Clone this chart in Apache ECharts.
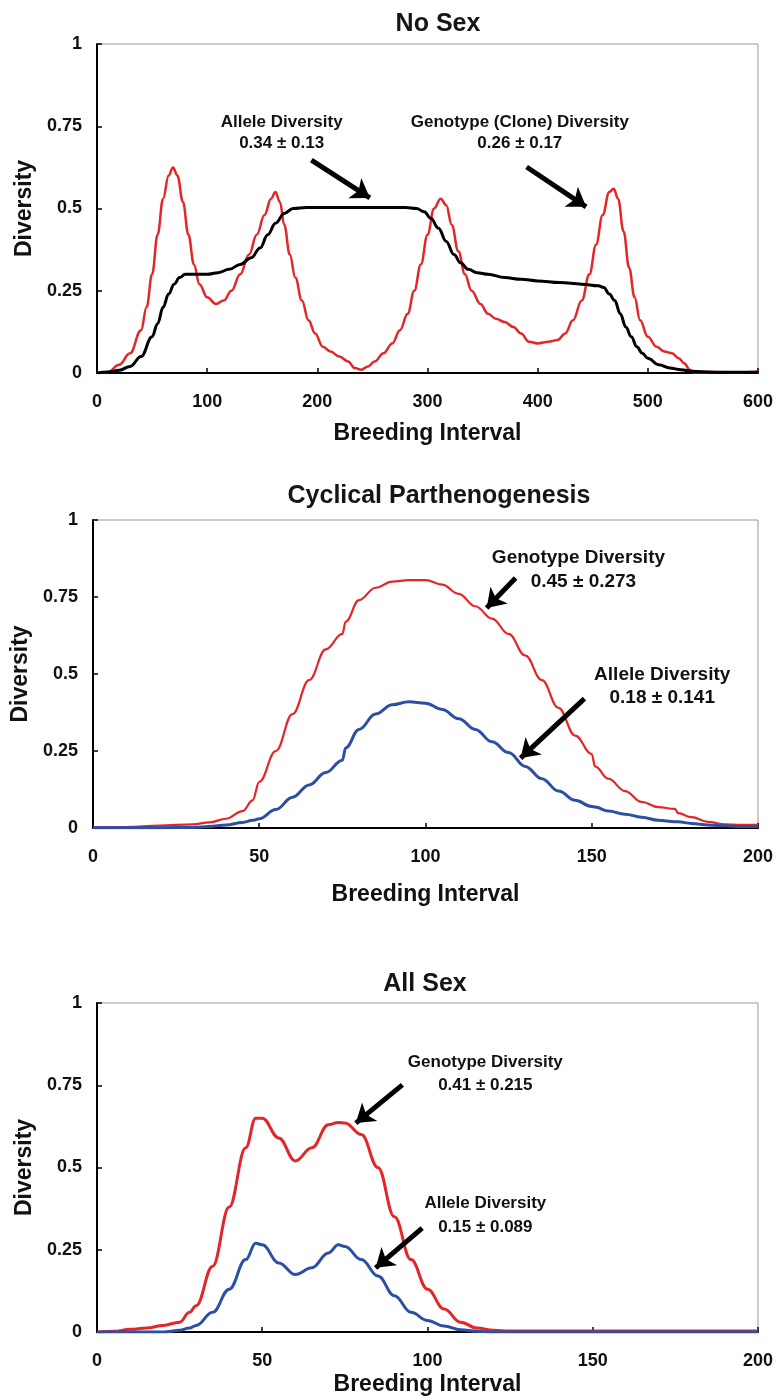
<!DOCTYPE html>
<html>
<head>
<meta charset="utf-8">
<script src="https://cdn.jsdelivr.net/npm/echarts@6/dist/echarts.min.js"></script>
<style>
  html, body { margin: 0; padding: 0; background: #fff; }
  #main { width: 776px; height: 1400px; }
</style>
</head>
<body>
<div id="main"></div>
<script>
// ---- data ----
var titles = ["No Sex", "Cyclical Parthenogenesis", "All Sex"];
var yTicks = [0, 0.25, 0.5, 0.75, 1];

// No Sex: genotype (clone) diversity, red
var noSexGenoX = [0, 10, 20, 30, 40, 45, 50, 55, 60, 65, 69, 73, 78, 83, 88, 93, 100, 108, 115, 122, 130, 138, 145, 152, 158, 162, 166, 170, 175, 180, 186, 192, 198, 205, 212, 220, 228, 234, 240, 246, 252, 260, 268, 275, 282, 288, 294, 300, 306, 312, 317, 322, 328, 334, 340, 348, 355, 362, 370, 378, 385, 392, 400, 410, 418, 425, 432, 440, 447, 453, 459, 465, 469, 473, 478, 483, 488, 493, 500, 508, 515, 522, 528, 533, 538, 542, 560, 580, 600];
var noSexGenoY = [0, 0.003, 0.025, 0.06, 0.13, 0.2, 0.3, 0.42, 0.53, 0.6, 0.625, 0.6, 0.52, 0.42, 0.33, 0.27, 0.23, 0.21, 0.22, 0.25, 0.3, 0.36, 0.42, 0.48, 0.53, 0.55, 0.52, 0.45, 0.36, 0.29, 0.22, 0.16, 0.12, 0.08, 0.065, 0.05, 0.035, 0.015, 0.01, 0.02, 0.035, 0.06, 0.09, 0.13, 0.18, 0.25, 0.33, 0.42, 0.5, 0.53, 0.51, 0.45, 0.37, 0.3, 0.25, 0.21, 0.18, 0.165, 0.155, 0.14, 0.12, 0.095, 0.09, 0.095, 0.1, 0.12, 0.16, 0.22, 0.3, 0.39, 0.48, 0.55, 0.56, 0.53, 0.43, 0.32, 0.23, 0.16, 0.11, 0.08, 0.065, 0.06, 0.045, 0.03, 0.01, 0.002, 0.003, 0.002, 0.004];
// No Sex: allele diversity, black
var noSexAlleleX = [0, 10, 20, 30, 40, 50, 55, 60, 65, 70, 75, 80, 90, 100, 110, 120, 130, 140, 148, 155, 162, 170, 178, 190, 220, 250, 280, 290, 297, 303, 310, 317, 324, 330, 337, 345, 355, 370, 385, 400, 420, 440, 455, 460, 465, 470, 475, 480, 485, 490, 495, 500, 510, 520, 530, 540, 560, 600];
var noSexAlleleY = [0, 0.003, 0.008, 0.02, 0.05, 0.11, 0.15, 0.2, 0.24, 0.27, 0.29, 0.3, 0.3, 0.3, 0.305, 0.315, 0.33, 0.35, 0.38, 0.42, 0.455, 0.485, 0.5, 0.503, 0.503, 0.503, 0.503, 0.5, 0.49, 0.47, 0.44, 0.4, 0.36, 0.335, 0.315, 0.305, 0.3, 0.29, 0.285, 0.28, 0.275, 0.27, 0.265, 0.26, 0.24, 0.22, 0.18, 0.14, 0.11, 0.08, 0.06, 0.045, 0.025, 0.015, 0.01, 0.005, 0.002, 0.002];

// Cyclical Parthenogenesis
var cpX = [0, 10, 20, 30, 35, 40, 45, 48, 50, 55, 60, 65, 70, 75, 76, 80, 85, 90, 95, 100, 105, 110, 115, 120, 125, 130, 135, 140, 145, 150, 151, 155, 160, 165, 170, 175, 176, 180, 185, 190, 195, 200];
var cpGeno = [0.002, 0.003, 0.008, 0.012, 0.018, 0.03, 0.055, 0.09, 0.15, 0.25, 0.37, 0.48, 0.58, 0.63, 0.67, 0.74, 0.78, 0.8, 0.805, 0.805, 0.79, 0.76, 0.72, 0.68, 0.63, 0.56, 0.48, 0.39, 0.3, 0.24, 0.2, 0.16, 0.12, 0.085, 0.068, 0.062, 0.048, 0.035, 0.02, 0.012, 0.01, 0.01];
var cpAllele = [0.001, 0.001, 0.001, 0.002, 0.005, 0.01, 0.018, 0.025, 0.03, 0.06, 0.1, 0.14, 0.18, 0.22, 0.26, 0.32, 0.37, 0.4, 0.41, 0.405, 0.385, 0.355, 0.32, 0.28, 0.245, 0.2, 0.16, 0.12, 0.09, 0.07, 0.068, 0.055, 0.045, 0.035, 0.025, 0.02, 0.02, 0.015, 0.01, 0.007, 0.005, 0.005];

// All Sex
var asX = [0, 5, 10, 15, 20, 25, 28, 30, 35, 40, 45, 48, 50, 55, 60, 65, 70, 73, 75, 80, 85, 90, 95, 100, 105, 110, 115, 120, 125, 150, 175, 200];
var asGeno = [0, 0.002, 0.008, 0.012, 0.02, 0.03, 0.06, 0.08, 0.2, 0.38, 0.56, 0.65, 0.65, 0.59, 0.52, 0.56, 0.63, 0.637, 0.635, 0.6, 0.5, 0.35, 0.22, 0.13, 0.07, 0.03, 0.012, 0.005, 0.003, 0.003, 0.003, 0.003];
var asAllele = [0, 0, 0, 0, 0, 0.005, 0.012, 0.02, 0.06, 0.13, 0.22, 0.27, 0.265, 0.21, 0.175, 0.195, 0.24, 0.265, 0.26, 0.22, 0.17, 0.11, 0.06, 0.035, 0.018, 0.007, 0.002, 0, 0, 0, 0, 0];

// annotation texts [text, x, y] and arrows [x1, y1, x2, y2] in data units
var noSexNotes = [["Allele Diversity", 167.6, 0.763], ["0.34 \u00b1 0.13", 167.6, 0.699], ["Genotype (Clone) Diversity", 383.8, 0.763], ["0.26 \u00b1 0.17", 383.8, 0.699]];
var noSexArrows = [[194.6, 0.647, 247.7, 0.532], [390, 0.626, 444, 0.505]];
var cpNotes = [["Genotype Diversity", 146, 0.877], ["0.45 \u00b1 0.273", 147.5, 0.799], ["Allele Diversity", 171.2, 0.497], ["0.18 \u00b1 0.141", 171.2, 0.422]];
var cpArrows = [[127.1, 0.812, 118.4, 0.714], [147.8, 0.42, 128.6, 0.227]];
var asNotes = [["Genotype Diversity", 117.5, 0.821], ["0.41 \u00b1 0.215", 117.5, 0.751], ["Allele Diversity", 117.5, 0.392], ["0.15 \u00b1 0.089", 117.5, 0.319]];
var asArrows = [[92.4, 0.751, 78.3, 0.635], [98.4, 0.316, 84.3, 0.195]];

// ---- chart ----
var RED = "#e3262a", BLUE = "#2b4fa3", BLACK = "#000";
var FONT = "Liberation Sans";

function zip(xs, ys) {
  return xs.map(function (x, i) { return [x, ys[i]]; });
}

function notesMark(notes, size) {
  return {
    symbol: "circle",
    symbolSize: 0,
    silent: true,
    label: {
      show: true,
      position: "inside",
      formatter: function (p) { return p.name; },
      fontFamily: FONT,
      fontWeight: "bold",
      fontSize: size,
      color: "#111"
    },
    data: notes.map(function (n) { return { name: n[0], coord: [n[1], n[2]] }; })
  };
}

function arrowsMark(arrows) {
  return {
    silent: true,
    symbol: ["none", "arrow"],
    symbolSize: 18,
    label: { show: false },
    lineStyle: { color: BLACK, width: 5, type: "solid" },
    itemStyle: { color: BLACK },
    emphasis: { disabled: true },
    data: arrows.map(function (a) { return [{ coord: [a[0], a[1]] }, { coord: [a[2], a[3]] }]; })
  };
}

var grids = [
  { left: 97, right: 12, top: 44, height: 329 },
  { left: 93, right: 16, top: 520, height: 308 },
  { left: 97, right: 12, top: 1003, height: 329 }
];
var xMax = [600, 200, 200];
var xStep = [100, 50, 50];
var titlePos = [[433, 7], [434, 479], [420, 967]];
var xNameGap = [49, 55, 41];
var noteSize = [17, 19, 17];

var myChart = echarts.init(document.getElementById("main"));
var option = {
  animation: false,
  title: titles.map(function (t, i) {
    return {
      text: t, left: titlePos[i][0], top: titlePos[i][1], textAlign: "center",
      textStyle: { fontFamily: FONT, fontSize: 25, fontWeight: "bold", color: "#151515" }
    };
  }),
  grid: grids.map(function (g) {
    return Object.assign({ show: true, borderColor: "#9a9a9a", borderWidth: 1, backgroundColor: "#fff" }, g);
  }),
  xAxis: grids.map(function (g, i) {
    return {
      gridIndex: i, type: "value", min: 0, max: xMax[i], interval: xStep[i],
      name: "Breeding Interval", nameLocation: "middle", nameGap: xNameGap[i],
      nameTextStyle: { fontFamily: FONT, fontSize: 23, fontWeight: "bold", color: "#111" },
      axisLine: { lineStyle: { color: BLACK, width: 2 } },
      axisTick: { inside: true, length: 5, lineStyle: { color: BLACK, width: 1.5 } },
      axisLabel: { margin: 20, fontFamily: FONT, fontSize: 18, fontWeight: "bold", color: "#111" },
      splitLine: { show: false }
    };
  }),
  yAxis: grids.map(function (g, i) {
    return {
      gridIndex: i, type: "value", min: yTicks[0], max: yTicks[yTicks.length - 1], interval: 0.25,
      name: "Diversity", nameLocation: "middle", nameGap: 60,
      nameTextStyle: { fontFamily: FONT, fontSize: 23, fontWeight: "bold", color: "#111" },
      axisLine: { show: true, lineStyle: { color: BLACK, width: 2 } },
      axisTick: { show: true, inside: true, length: 5, lineStyle: { color: BLACK, width: 1.5 } },
      axisLabel: { margin: 15, fontFamily: FONT, fontSize: 18, fontWeight: "bold", color: "#111" },
      splitLine: { show: false }
    };
  }),
  series: [
    {
      type: "line", xAxisIndex: 0, yAxisIndex: 0, data: zip(noSexGenoX, noSexGenoY),
      showSymbol: false, smooth: 0.4, smoothMonotone: "x",
      lineStyle: { color: RED, width: 2.5 }, z: 2,
      markPoint: notesMark(noSexNotes, noteSize[0]), markLine: arrowsMark(noSexArrows)
    },
    {
      type: "line", xAxisIndex: 0, yAxisIndex: 0, data: zip(noSexAlleleX, noSexAlleleY),
      showSymbol: false, smooth: 0.4, smoothMonotone: "x",
      lineStyle: { color: BLACK, width: 3 }, z: 3
    },
    {
      type: "line", xAxisIndex: 1, yAxisIndex: 1, data: zip(cpX, cpGeno),
      showSymbol: false, smooth: 0.4, smoothMonotone: "x",
      lineStyle: { color: RED, width: 2.2 }, z: 2,
      markPoint: notesMark(cpNotes, noteSize[1]), markLine: arrowsMark(cpArrows)
    },
    {
      type: "line", xAxisIndex: 1, yAxisIndex: 1, data: zip(cpX, cpAllele),
      showSymbol: false, smooth: 0.4, smoothMonotone: "x",
      lineStyle: { color: BLUE, width: 3 }, z: 3
    },
    {
      type: "line", xAxisIndex: 2, yAxisIndex: 2, data: zip(asX, asGeno),
      showSymbol: false, smooth: 0.4, smoothMonotone: "x",
      lineStyle: { color: RED, width: 3 }, z: 2,
      markPoint: notesMark(asNotes, noteSize[2]), markLine: arrowsMark(asArrows)
    },
    {
      type: "line", xAxisIndex: 2, yAxisIndex: 2, data: zip(asX, asAllele),
      showSymbol: false, smooth: 0.4, smoothMonotone: "x",
      lineStyle: { color: BLUE, width: 3 }, z: 3
    }
  ]
};

option && myChart.setOption(option);
</script>
</body>
</html>
